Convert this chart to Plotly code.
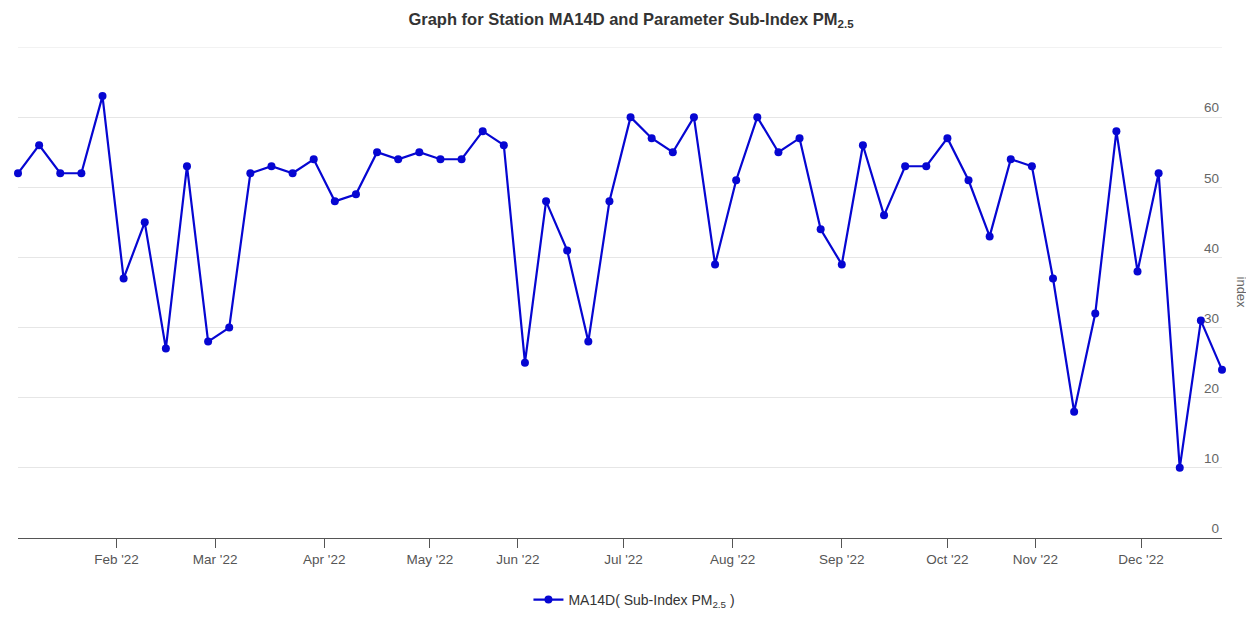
import plotly.graph_objects as go

# 1-in-6 day samples (two missed samples: mid May and mid Oct)
dates = [
    "2022-01-04", "2022-01-10", "2022-01-16", "2022-01-22", "2022-01-28",
    "2022-02-03", "2022-02-09", "2022-02-15", "2022-02-21", "2022-02-27",
    "2022-03-05", "2022-03-11", "2022-03-17", "2022-03-23", "2022-03-29",
    "2022-04-04", "2022-04-10", "2022-04-16", "2022-04-22", "2022-04-28",
    "2022-05-04", "2022-05-10", "2022-05-22", "2022-05-28",
    "2022-06-03", "2022-06-09", "2022-06-15", "2022-06-21", "2022-06-27",
    "2022-07-03", "2022-07-09", "2022-07-15", "2022-07-21", "2022-07-27",
    "2022-08-02", "2022-08-08", "2022-08-14", "2022-08-20", "2022-08-26",
    "2022-09-01", "2022-09-07", "2022-09-13", "2022-09-19", "2022-09-25",
    "2022-10-01", "2022-10-07", "2022-10-13", "2022-10-25", "2022-10-31",
    "2022-11-06", "2022-11-12", "2022-11-18", "2022-11-24", "2022-11-30",
    "2022-12-06", "2022-12-12", "2022-12-18", "2022-12-24",
]
sub_index = [
    52, 56, 52, 52, 63, 37, 45, 27, 53, 28,
    30, 52, 53, 52, 54, 48, 49, 55, 54, 55,
    54, 54, 58, 56, 25, 48, 41, 28, 48, 60,
    57, 55, 60, 39, 51, 60, 55, 57, 44, 39,
    56, 46, 53, 53, 57, 51, 43, 54, 53, 37,
    18, 32, 58, 38, 52, 10, 31, 24,
]
# missing sample gaps, removed so points sit evenly (ordinal axis)
gaps = [["2022-05-13", "2022-05-19"], ["2022-10-16", "2022-10-22"]]
y_ticks = [0, 10, 20, 30, 40, 50, 60]
y_max = 70

title = "Graph for Station MA14D and Parameter Sub-Index PM<sub>2.5</sub>"
series_name = "MA14D( Sub-Index PM<sub>2.5</sub> )"

blue = "#0606d2"
font = "Liberation Sans, Arial, sans-serif"

fig = go.Figure()
fig.add_trace(go.Scatter(
    x=dates,
    y=sub_index,
    mode="lines+markers",
    name=series_name,
    line=dict(color=blue, width=2.2),
    marker=dict(color=blue, size=8),
    cliponaxis=False,
))

# top gridline (no label in the original)
fig.add_hline(y=y_max, line=dict(color="#e6e6e6", width=1), layer="below")

fig.add_annotation(
    text="index", xref="paper", yref="paper", x=1.0166, y=0.5,
    xanchor="center", yanchor="middle",
    textangle=90, showarrow=False,
    font=dict(family=font, size=13, color="#666666"),
)

# the page body adds an 8px margin, so the figure is 8px smaller
fig.update_layout(
    width=1246,
    height=617,
    margin=dict(l=10, r=32, t=39, b=86),
    paper_bgcolor="white",
    plot_bgcolor="white",
    font=dict(family=font, color="#666666", size=13),
    title=dict(
        text=title, x=0.5, xanchor="center", y=0.982, yanchor="middle",
        font=dict(family=font, size=16.5, color="#333333", weight="bold"),
    ),
    showlegend=True,
    legend=dict(
        orientation="h", x=0.512, xanchor="center", y=-0.124, yanchor="middle",
        font=dict(family=font, size=14, color="#333333"),
        bgcolor="rgba(0,0,0,0)",
        itemwidth=30,
    ),
    xaxis=dict(
        type="date",
        range=[dates[0], dates[-1]],
        rangebreaks=[dict(bounds=g) for g in gaps],
        tick0="2022-01-01",
        dtick="M1",
        tickformat="%b '%y",
        ticks="outside",
        ticklen=9,
        tickcolor="#555555",
        showline=True,
        linecolor="#555555",
        linewidth=1,
        showgrid=False,
        zeroline=False,
        automargin=False,
        tickfont=dict(family=font, size=13.5, color="#555555"),
    ),
    yaxis=dict(
        side="right",
        range=[0, y_max],
        tickvals=y_ticks,
        ticklabelposition="inside top",
        showgrid=True,
        gridcolor="#e6e6e6",
        showline=False,
        zeroline=False,
        automargin=False,
        tickfont=dict(family=font, size=13.5, color="#666666"),
    ),
)

fig.write_html("out.html")
